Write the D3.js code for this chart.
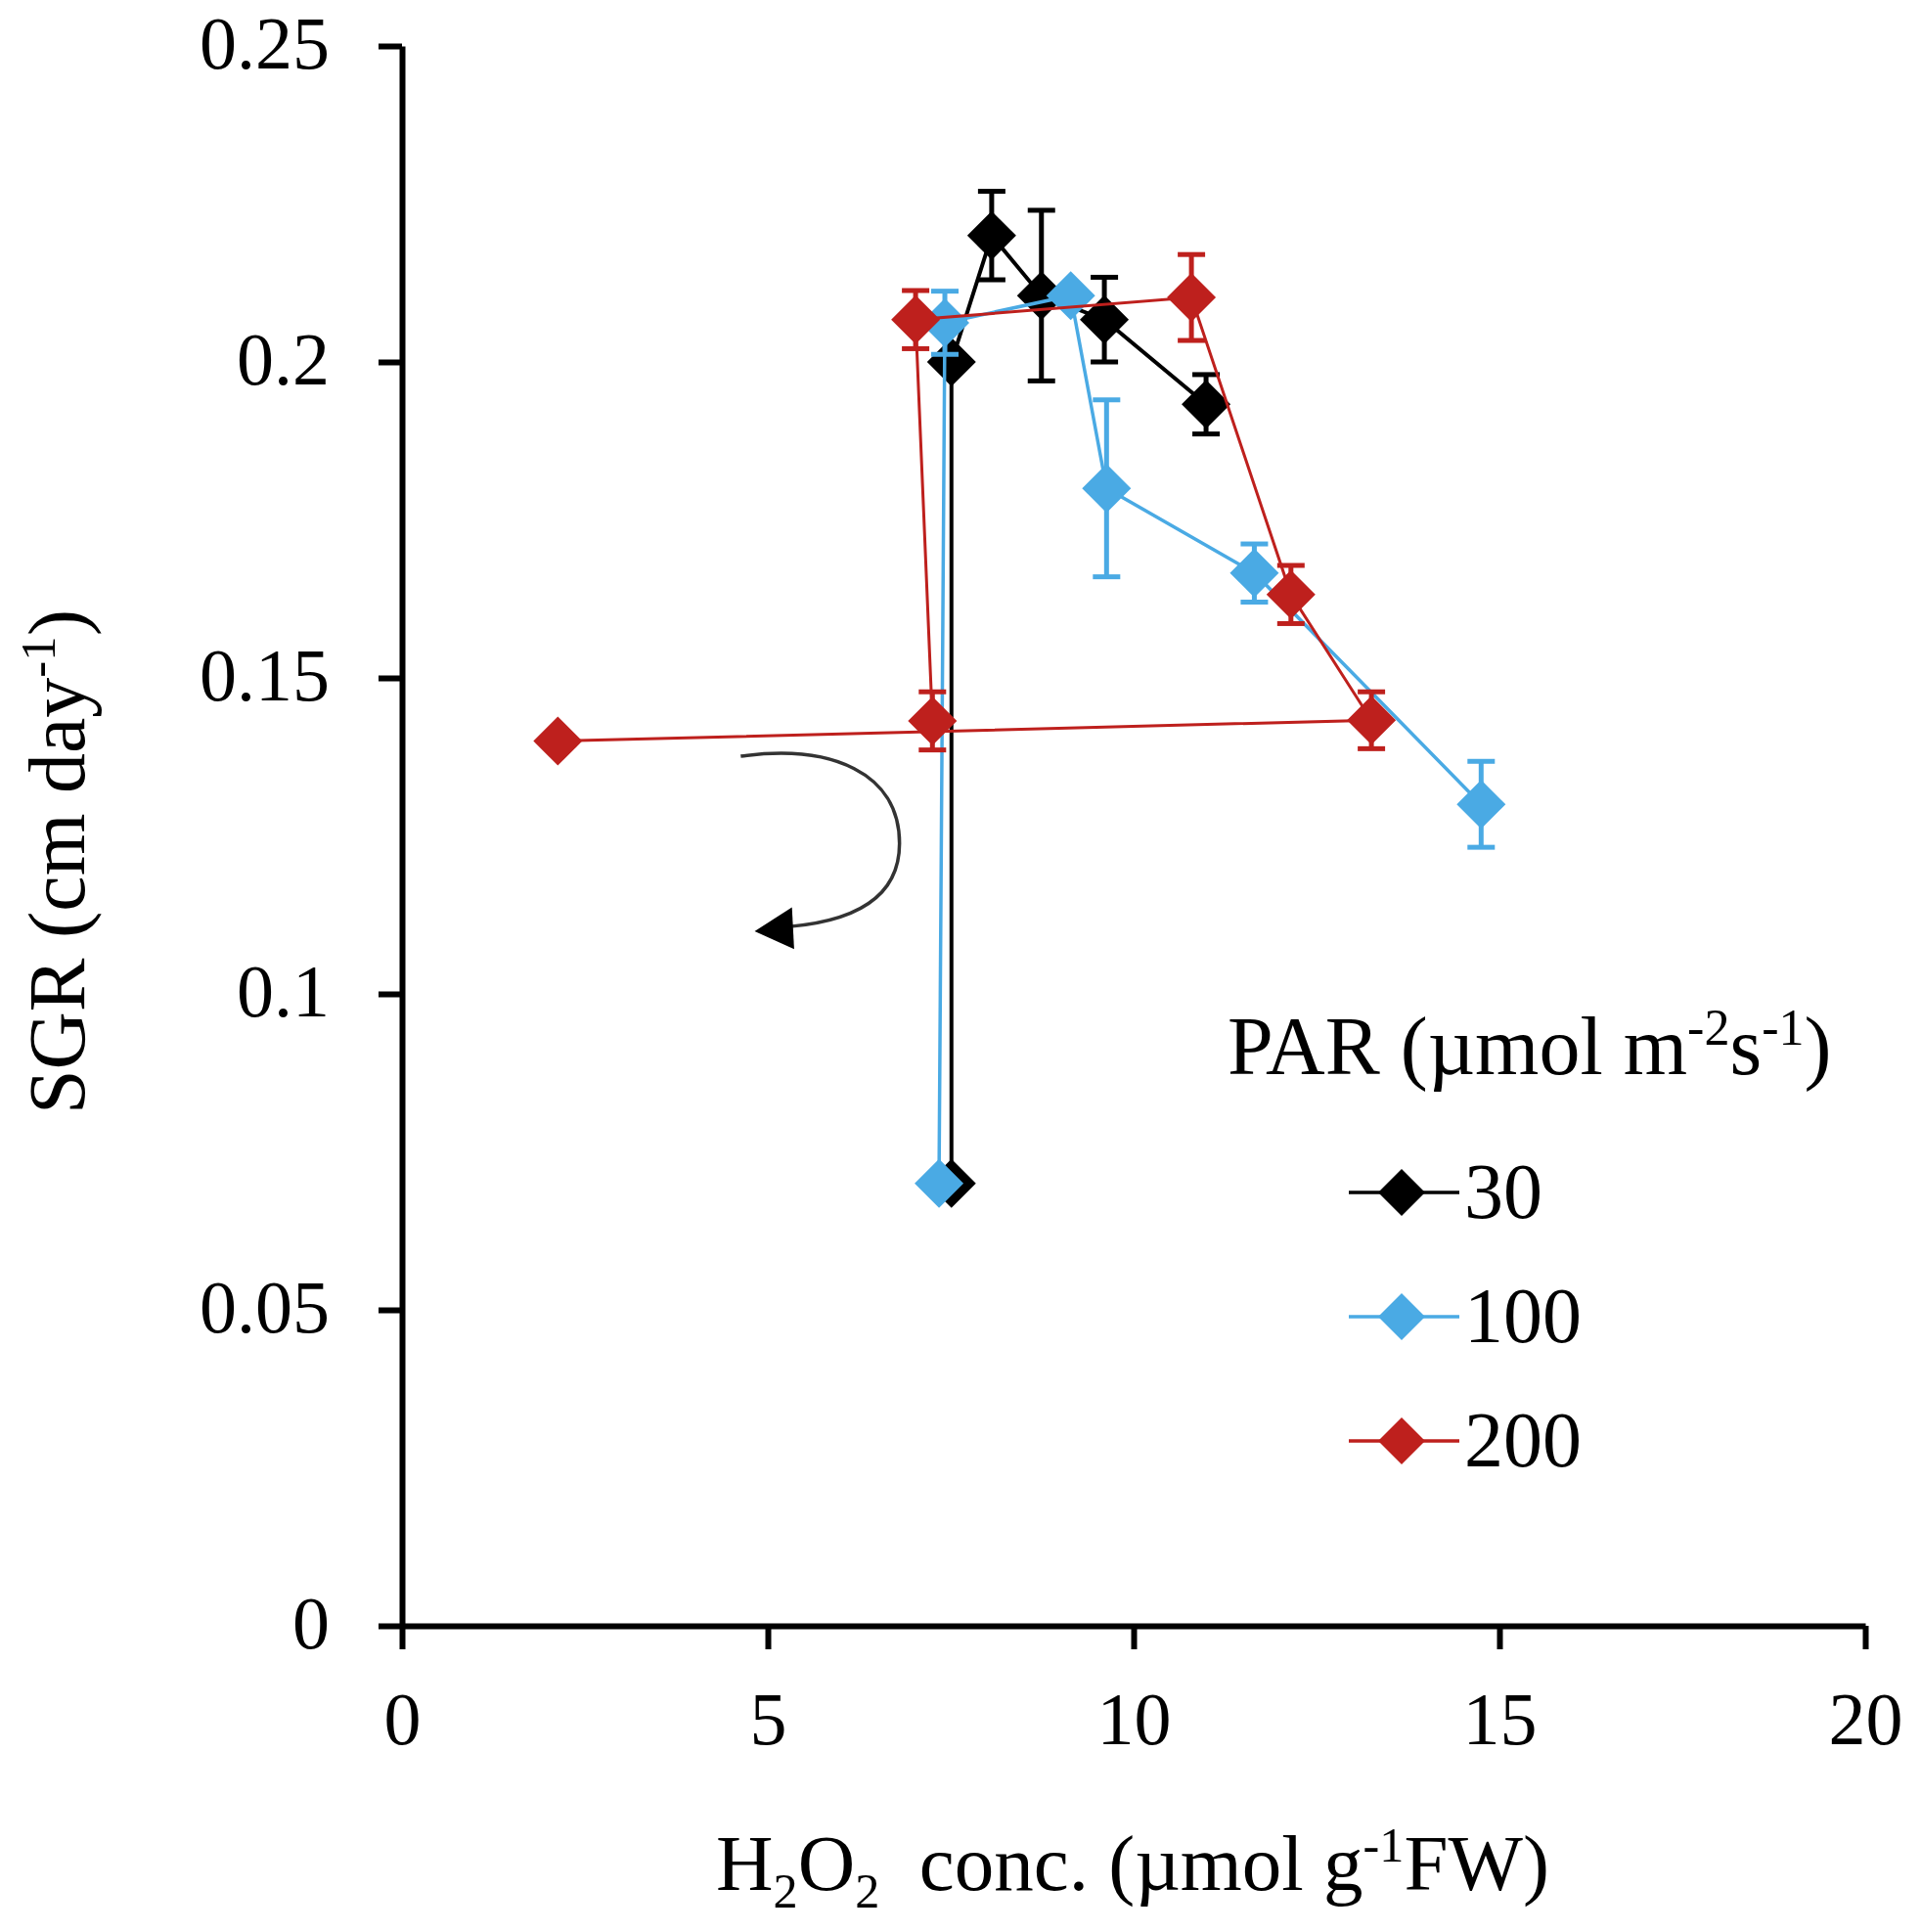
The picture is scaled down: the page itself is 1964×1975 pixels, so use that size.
<!DOCTYPE html>
<html>
<head>
<meta charset="utf-8">
<script src="https://cdn.jsdelivr.net/npm/d3@7"></script>
<style>
  html, body { margin: 0; padding: 0; background: #fff; }
  svg text { font-family: "Liberation Serif", "Times New Roman", serif; fill: #000; }
</style>
</head>
<body>
<svg id="chart" width="1964" height="1975"></svg>
<script>
// ===============================
// Dades
// ===============================
const seriesNames = ["30", "100", "200"];
const seriesColors = ["#000000", "#4aaae4", "#be201d"];

// PAR 30
const h2o2_30 = [7.51, 7.51, 8.06, 8.74, 9.6, 10.99];
const sgr_30 = [0.07, 0.2, 0.22, 0.2105, 0.2067, 0.1933];
const err_30 = [0, 0, 0.007, 0.0135, 0.0067, 0.0047];

// PAR 100
const h2o2_100 = [7.34, 7.42, 9.14, 9.63, 11.65, 14.75];
const sgr_100 = [0.07, 0.2062, 0.2105, 0.18, 0.1666, 0.13];
const err_100 = [0, 0.005, 0, 0.014, 0.0046, 0.0068];

// PAR 200
const h2o2_200 = [7.25, 7.02, 10.79, 12.15, 13.25, 2.13];
const sgr_200 = [0.1432, 0.2067, 0.2102, 0.1632, 0.1433, 0.14];
const err_200 = [0.0046, 0.0046, 0.0068, 0.0046, 0.0045, 0];

const xTicks = [0, 5, 10, 15, 20];
const yTicks = [0, 0.05, 0.1, 0.15, 0.2, 0.25];

// fletxa corbada (anotació), en unitats de dades
const arrowPath = [[4.63, 0.1376], [5.87, 0.1396], [6.8, 0.135], [6.8, 0.1238],
                   [6.8, 0.1141], [6.0, 0.111], [5.1, 0.1105]];
const arrowHead = [[4.82, 0.1099], [5.33, 0.1137], [5.36, 0.1071]];

const series = [
  { name: seriesNames[0], color: seriesColors[0], x: h2o2_30, y: sgr_30, err: err_30, width: 4 },
  { name: seriesNames[1], color: seriesColors[1], x: h2o2_100, y: sgr_100, err: err_100, width: 3.5 },
  { name: seriesNames[2], color: seriesColors[2], x: h2o2_200, y: sgr_200, err: err_200, width: 3 }
];

// ===============================
// Escales
// ===============================
const svg = d3.select("#chart");
const margin = { top: 47, right: 57, bottom: 313, left: 411 };
const width = 1964, height = 1975;

const x = d3.scaleLinear().domain([0, 20]).range([margin.left, width - margin.right]);
const y = d3.scaleLinear().domain([0, 0.25]).range([height - margin.bottom, margin.top]);

// text amb sub/superíndexs (el desplaçament de tornada va a la peça següent)
function richText(sel, parts, size) {
  const small = size * 0.62;
  let back = 0;
  parts.forEach(([t, type]) => {
    const ts = sel.append("tspan").text(t);
    let dy = back;
    if (type === "sup") { dy += -size * 0.36; back = size * 0.36; }
    else if (type === "sub") { dy += size * 0.22; back = -size * 0.22; }
    else back = 0;
    if (dy) ts.attr("dy", dy);
    ts.style("font-size", (type ? small : size) + "px");
  });
}

// ===============================
// Eixos
// ===============================
const xAxis = svg.append("g")
  .attr("transform", `translate(0, ${y(0)})`)
  .call(d3.axisBottom(x).tickValues(xTicks).tickSize(24).tickSizeOuter(0).tickFormat(d => d));

xAxis.selectAll("text")
  .attr("y", 121)
  .attr("dy", 0)
  .style("font-size", "76px");

const yAxis = svg.append("g")
  .attr("transform", `translate(${x(0)}, 0)`)
  .call(d3.axisLeft(y).tickValues(yTicks).tickSize(24).tickSizeOuter(0).tickFormat(d => String(d)));

yAxis.selectAll("text")
  .attr("x", -74)
  .attr("dy", "0.3em")
  .style("font-size", "76px");

svg.selectAll(".domain, .tick line")
  .attr("stroke", "#000")
  .attr("stroke-width", 6);

// títols d'eixos
const xTitle = svg.append("text")
  .attr("x", 1158)
  .attr("y", 1932)
  .attr("text-anchor", "middle")
  .style("font-size", "81px");
richText(xTitle, [["H"], ["2", "sub"], ["O"], ["2", "sub"], ["\u00A0 conc. (\u00B5mol g"], ["-1", "sup"], ["FW)"]], 81);

const yTitle = svg.append("text")
  .attr("transform", "translate(86, 881) rotate(-90)")
  .attr("text-anchor", "middle")
  .style("font-size", "82px");
richText(yTitle, [["SGR (cm day"], ["-1", "sup"], [")"]], 82);

// ===============================
// Sèries
// ===============================
const diamond = r => `M0,${-r} L${r},0 L0,${r} L${-r},0 Z`;

const line = d3.line()
  .x(d => x(d[0]))
  .y(d => y(d[1]));

series.forEach(s => {
  const pts = s.x.map((v, i) => [v, s.y[i], s.err[i]]);
  const g = svg.append("g");

  // barres d'error
  const eb = g.selectAll(".err")
    .data(pts.filter(d => d[2] > 0))
    .enter()
    .append("g")
    .attr("stroke", s.color)
    .attr("stroke-width", 5);

  eb.append("line")
    .attr("x1", d => x(d[0])).attr("x2", d => x(d[0]))
    .attr("y1", d => y(d[1] - d[2])).attr("y2", d => y(d[1] + d[2]));
  eb.append("line")
    .attr("x1", d => x(d[0]) - 14).attr("x2", d => x(d[0]) + 14)
    .attr("y1", d => y(d[1] + d[2])).attr("y2", d => y(d[1] + d[2]));
  eb.append("line")
    .attr("x1", d => x(d[0]) - 14).attr("x2", d => x(d[0]) + 14)
    .attr("y1", d => y(d[1] - d[2])).attr("y2", d => y(d[1] - d[2]));

  g.append("path")
    .datum(pts)
    .attr("d", line)
    .attr("fill", "none")
    .attr("stroke", s.color)
    .attr("stroke-width", s.width);

  g.selectAll(".marker")
    .data(pts)
    .enter()
    .append("path")
    .attr("d", diamond(25))
    .attr("transform", d => `translate(${x(d[0])}, ${y(d[1])})`)
    .attr("fill", s.color);
});

// ===============================
// Fletxa corbada
// ===============================
const ap = arrowPath.map(d => [x(d[0]), y(d[1])]);
svg.append("path")
  .attr("d", `M${ap[0]} C${ap[1]} ${ap[2]} ${ap[3]} C${ap[4]} ${ap[5]} ${ap[6]}`)
  .attr("fill", "none")
  .attr("stroke", "#333")
  .attr("stroke-width", 3.5);

svg.append("path")
  .attr("d", "M" + arrowHead.map(d => [x(d[0]), y(d[1])]).join(" L") + " Z")
  .attr("fill", "#000");

// ===============================
// Llegenda
// ===============================
const legendTitle = svg.append("text")
  .attr("x", 1255)
  .attr("y", 1098)
  .style("font-size", "84px");
richText(legendTitle, [["PAR (\u00B5mol m"], ["-2", "sup"], ["s"], ["-1", "sup"], [")"]], 84);

const legend = svg.selectAll(".legend-item")
  .data(series)
  .enter()
  .append("g")
  .attr("transform", (d, i) => `translate(1379, ${1219 + i * 127})`);

legend.append("line")
  .attr("x1", 0).attr("x2", 113)
  .attr("stroke", d => d.color)
  .attr("stroke-width", 3.5);

legend.append("path")
  .attr("d", diamond(24))
  .attr("transform", "translate(54, 0)")
  .attr("fill", d => d.color);

legend.append("text")
  .attr("x", 118)
  .attr("y", 26)
  .style("font-size", "80px")
  .text(d => d.name);
</script>
</body>
</html>
